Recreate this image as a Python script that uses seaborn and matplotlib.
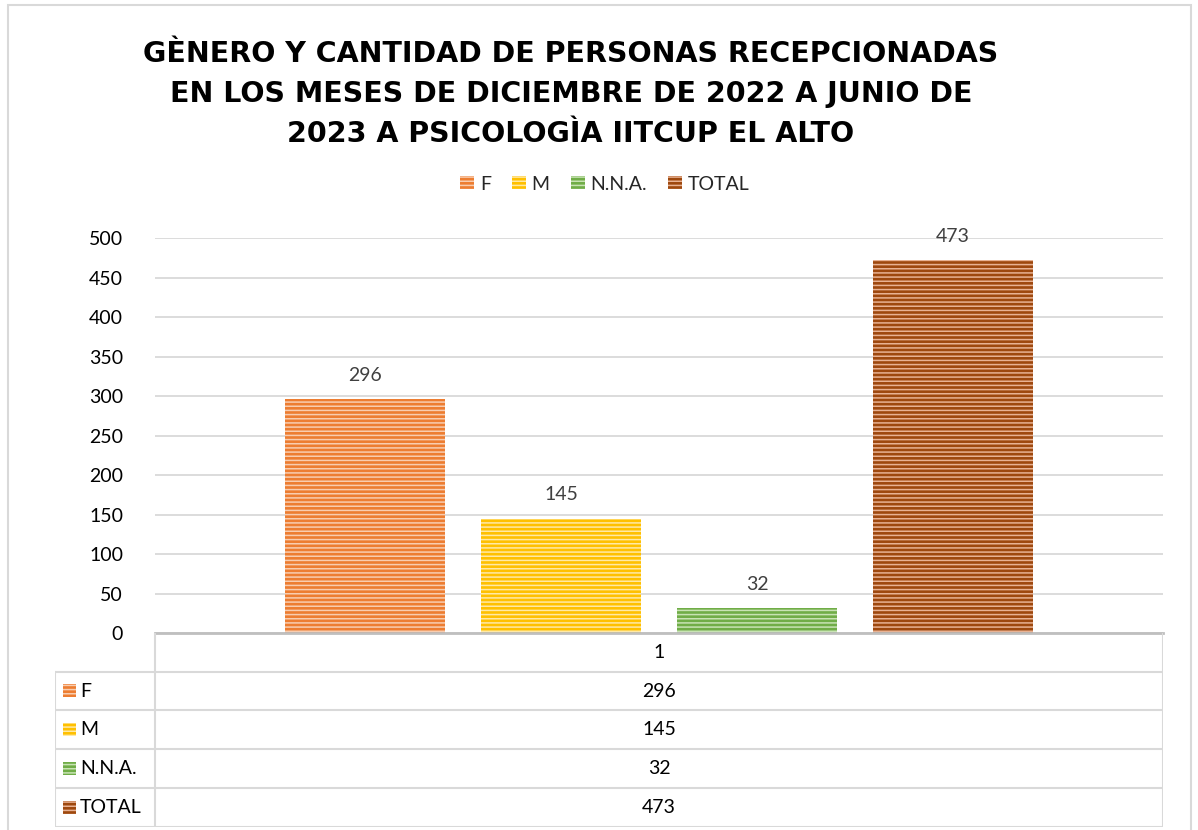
import matplotlib
matplotlib.use("Agg")
import matplotlib.pyplot as plt
from matplotlib.patches import Patch, Rectangle
import numpy as np
import pandas as pd
import seaborn as sns

# ── data ──────────────────────────────────────────────────────────────────────
CATEGORY = ["1"]
SERIES   = ["F", "M", "N.N.A.", "TOTAL"]
VALUES   = [296, 145, 32, 473]
YTICKS   = [0, 50, 100, 150, 200, 250, 300, 350, 400, 450, 500]

TITLE_LINES = [
    "GÈNERO Y CANTIDAD DE PERSONAS RECEPCIONADAS",
    "EN LOS MESES DE DICIEMBRE DE 2022 A JUNIO DE",
    "2023 A PSICOLOGÌA IITCUP EL ALTO",
]

# ── style ─────────────────────────────────────────────────────────────────────
COLORS  = ["#ED7D31", "#FFC000", "#70AD47", "#9E480E"]
STRIPES = ["#F8CDB0", "#FFE9A6", "#C8E3B4", "#E8B293"]
GRID    = "#D9D9D9"
HATCH   = "----"

sns.set_style("white")
plt.rcParams["font.family"] = ["Lato", "DejaVu Sans"]
plt.rcParams["hatch.linewidth"] = 1.1

W, H = 1198, 830
fig = plt.figure(figsize=(W / 100, H / 100), dpi=100)


def fx(px):
    return px / W


def fy(py):
    return 1 - py / H


# main plot area
ax = fig.add_axes([fx(155), fy(633), fx(1163) - fx(155), fy(238) - fy(633)])

df = pd.DataFrame({
    "cat":   CATEGORY * len(SERIES),
    "serie": SERIES,
    "value": VALUES,
})
sns.barplot(
    data=df, x="cat", y="value", hue="serie", hue_order=SERIES,
    palette=COLORS, width=0.778, gap=0.184, legend=False, ax=ax,
    saturation=1,
)

for cont, col, stripe in zip(ax.containers, COLORS, STRIPES):
    for bar in cont:
        bar.set_facecolor(col)
        bar.set_edgecolor(stripe)
        bar.set_linewidth(0)
        bar.set_hatch(HATCH)
    for bar, val in zip(cont, cont.datavalues):
        ax.annotate(
            f"{val:.0f}",
            (bar.get_x() + bar.get_width() / 2, bar.get_height()),
            xytext=(0, 17), textcoords="offset points",
            ha="center", va="center", fontsize=14, color="#404040",
        )

ax.set_xlim(-0.5, 0.5)
ax.set_ylim(0, 500.5)
ax.set_yticks(YTICKS)
ax.set_yticklabels([str(t) for t in YTICKS], fontsize=14, color="#000000")
ax.tick_params(axis="y", length=3, color=GRID, pad=20)
ax.set_xticks([])
ax.set_xlabel("")
ax.set_ylabel("")
ax.yaxis.grid(True, color=GRID, linewidth=1.3)
ax.set_axisbelow(True)
for s in ["top", "right", "left"]:
    ax.spines[s].set_visible(False)
ax.spines["bottom"].set_color("#BFBFBF")
ax.spines["bottom"].set_linewidth(2)

# ── title ─────────────────────────────────────────────────────────────────────
for i, line in enumerate(TITLE_LINES):
    fig.text(fx(571), fy(54 + i * 40), line, ha="center", va="center",
             fontsize=20.5, fontweight="bold", family="DejaVu Sans",
             color="#000000")

# ── legend ────────────────────────────────────────────────────────────────────
handles = [Patch(facecolor=c, edgecolor=s, hatch=HATCH, linewidth=0, label=n)
           for n, c, s in zip(SERIES, COLORS, STRIPES)]
fig.legend(handles=handles, loc="center", bbox_to_anchor=(fx(605), fy(184)),
           ncol=4, frameon=False, fontsize=14, handlelength=0.7,
           handleheight=0.7, handletextpad=0.3, columnspacing=1.1)

# ── data table ────────────────────────────────────────────────────────────────
tax = fig.add_axes([fx(55), fy(827), fx(1163) - fx(55), fy(633) - fy(827)])
tax.set_xlim(55, 1163)
tax.set_ylim(827, 633)
tax.axis("off")

row_edges = [633, 672, 710, 749, 788, 827]
lw = 1.5
for y in row_edges[1:]:
    tax.plot([55, 1163], [y, y], color=GRID, lw=lw, solid_capstyle="butt")
tax.plot([55, 55], [672, 827], color=GRID, lw=lw)
tax.plot([155, 155], [633, 827], color=GRID, lw=lw)
tax.plot([1163, 1163], [633, 827], color=GRID, lw=lw)

mid = (155 + 1163) / 2
tax.text(mid, (row_edges[0] + row_edges[1]) / 2, CATEGORY[0],
         ha="center", va="center", fontsize=14, color="#000000")
for i, (name, val, col, stripe) in enumerate(zip(SERIES, VALUES, COLORS, STRIPES)):
    yc = (row_edges[i + 1] + row_edges[i + 2]) / 2
    tax.add_patch(Rectangle((63, yc - 7), 13, 13, facecolor=col,
                            edgecolor=stripe, hatch=HATCH, linewidth=0))
    tax.text(80, yc, name, ha="left", va="center", fontsize=14, color="#000000")
    tax.text(mid, yc, str(val), ha="center", va="center", fontsize=14,
             color="#000000")

# outer chart border
fig.add_artist(Rectangle((fx(8), fy(832)), fx(1191) - fx(8), fy(5) - fy(832),
                         transform=fig.transFigure, fill=False,
                         edgecolor=GRID, linewidth=1.5, clip_on=False))

fig.savefig("out.png", dpi=100)
